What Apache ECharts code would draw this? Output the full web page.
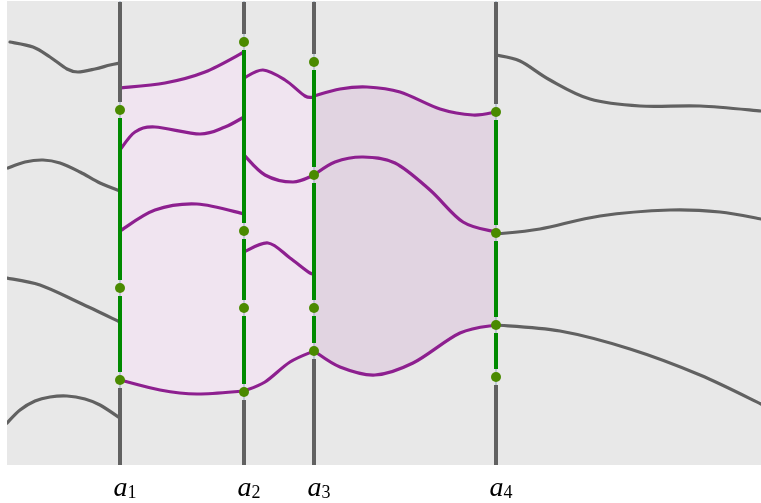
<!DOCTYPE html>
<html><head><meta charset="utf-8">
<script src="https://cdn.jsdelivr.net/npm/echarts@6/dist/echarts.min.js"></script>
<style>html,body{margin:0;padding:0;background:#fff}#c{width:761px;height:503px}</style>
</head><body><div id="c"></div>
<script>
// ---- data (x, y in plot units; y grows downward) ----
const axisX = [120, 244, 314, 496];
const axisNames = ['1', '2', '3', '4'];
const axisDots = [
  [110, 288, 380],
  [42, 231, 308, 392],
  [62, 175, 308, 351],
  [112, 233, 325, 377]
];
// gray curves
const G1 = [[10,42],[33,47],[50,57],[67,69],[78,72],[95,69],[110,65],[120,63]];
const G2 = [[8,168],[25,162],[43,160],[60,163],[80,172],[100,183],[120,191]];
const G3 = [[7,278],[40,285],[80,303],[120,322]];
const G4 = [[7,423],[20,410],[35,401],[50,397],[67,396],[85,399],[100,405],[120,418]];
const R1 = [[496,55],[520,61],[550,80],[590,99],[640,106],[700,106],[761,111]];
const R2 = [[496,234],[540,229],[600,216],[670,210],[720,212],[761,219]];
const R3 = [[496,325],[560,331],[630,349],[700,375],[761,404]];
// purple curves
const P1 = [[120,88],[165,83],[205,72],[244,52]];
const P2 = [[120,150],[135,132],[155,127],[200,134],[225,127],[244,117]];
const P3 = [[120,231],[155,210],[197,204],[244,214]];
const P4a = [[120,380],[160,390],[197,394],[244,391]];
const P4b = [[244,391],[265,382],[290,362],[314,351]];
const P4c = [[314,351],[340,367],[375,375],[413,363],[460,333],[496,325]];
const P5a = [[244,78],[263,70],[285,80],[305,96],[314,97]];
const P5b = [[314,96],[340,89],[367,87],[400,92],[440,109],[473,115],[496,112]];
const P6a = [[244,155],[265,175],[293,182],[314,175]];
const P6b = [[314,175],[335,162],[363,157],[395,163],[430,190],[463,222],[496,232]];
const P7 = [[244,252],[268,243],[290,258],[310,273],[314,272]];

const Y_TOP = 1, Y_BOT = 465;
const GRAY = '#616161', PURPLE = '#8d1f8f', GREEN = '#008a00', DOT = '#4a8a00';
const BG = '#e8e8e8', PINK = '#f0e4f0', DARK = '#e1d4e1';

// Catmull-Rom path through pixel points
function splinePath(pts) {
  let s = 'M' + pts[0][0] + ' ' + pts[0][1];
  for (let i = 0; i < pts.length - 1; i++) {
    const p0 = pts[Math.max(i - 1, 0)], p1 = pts[i], p2 = pts[i + 1], p3 = pts[Math.min(i + 2, pts.length - 1)];
    const c1 = [p1[0] + (p2[0] - p0[0]) / 6, p1[1] + (p2[1] - p0[1]) / 6];
    const c2 = [p2[0] - (p3[0] - p1[0]) / 6, p2[1] - (p3[1] - p1[1]) / 6];
    s += ' C' + c1[0] + ' ' + c1[1] + ' ' + c2[0] + ' ' + c2[1] + ' ' + p2[0] + ' ' + p2[1];
  }
  return s;
}
const series = [];
function curveSeries(d, opts, z) {
  series.push({type:'custom', data:d, z:z, silent:true, clip:true,
    encode:{x:0, y:1},
    renderItem: (params, api) => {
      if (params.dataIndex !== 0) return null;
      const px = d.map(p => api.coord(p));
      if (opts.fill) {
        const base = api.coord([d[0][0], Y_BOT])[1];
        const path = splinePath(px) + ' L' + px[px.length-1][0] + ' ' + base + ' L' + px[0][0] + ' ' + base + ' Z';
        return {type:'path', shape:{pathData:path}, style:{fill:opts.fill, stroke:null}};
      }
      return {type:'path', shape:{pathData:splinePath(px)},
        style:{fill:null, stroke:opts.stroke, lineWidth:opts.width, lineCap:'round'}};
    }});
}
function seg(x, y1, y2, color, w, z) {
  series.push({type:'line', data:[[x,y1],[x,y2]], showSymbol:false, silent:true, z:z,
    lineStyle:{width:w, color:color}});
}
// fills
curveSeries(P1, {fill:PINK}, 1); curveSeries(P5a, {fill:PINK}, 1); curveSeries(P5b, {fill:DARK}, 1);
curveSeries(P4a, {fill:BG}, 2); curveSeries(P4b, {fill:BG}, 2); curveSeries(P4c, {fill:BG}, 2);
// thin guides
axisX.forEach(x => seg(x, Y_TOP, Y_BOT, '#9fb2c6', 1.2, 3));
// curves
[G1,G2,G3,G4,R1,R2,R3].forEach(d => curveSeries(d, {stroke:GRAY, width:3.2}, 4));
[P1,P2,P3,P4a,P4b,P4c,P5a,P5b,P6a,P6b,P7].forEach(d => curveSeries(d, {stroke:PURPLE, width:3.2}, 5));
// vertical segments
const GAP = 8;
axisX.forEach((x, i) => {
  const d = axisDots[i];
  seg(x, Y_TOP + 1, d[0] - GAP, GRAY, 4, 6);
  for (let k = 0; k < d.length - 1; k++) seg(x, d[k] + GAP, d[k+1] - GAP, GREEN, 4, 6);
  seg(x, d[d.length-1] + GAP, Y_BOT, GRAY, 4, 6);
});
// dots
const dotData = [];
axisX.forEach((x, i) => axisDots[i].forEach(y => dotData.push([x, y])));
series.push({type:'scatter', data:dotData, symbolSize:10, itemStyle:{color:DOT, opacity:1}, z:7, silent:true});
// labels
series.push({type:'scatter', data:axisX.map(x => [x, Y_BOT]), symbolSize:0, clip:false, z:8, silent:true,
  itemStyle:{opacity:1, color:'#000'},
  label:{show:true, position:'bottom', distance:10, offset:[5,0],
    formatter: p => '{a|a}{s|' + axisNames[p.dataIndex] + '}',
    rich:{
      a:{fontFamily:'Liberation Serif', fontStyle:'italic', fontSize:28, color:'#000', lineHeight:28},
      s:{fontFamily:'Liberation Serif', fontSize:18, color:'#000', padding:[9,0,0,0], lineHeight:28}
    }}});

const chart = echarts.init(document.getElementById('c'));
chart.setOption({
  animation:false,
  backgroundColor:'#ffffff',
  grid:{left:7, right:0, top:Y_TOP, bottom:503-Y_BOT, show:true, backgroundColor:BG, borderWidth:0},
  xAxis:{type:'value', min:7, max:761, show:false},
  yAxis:{type:'value', min:Y_TOP, max:Y_BOT, inverse:true, show:false},
  series:series
});
</script></body></html>
